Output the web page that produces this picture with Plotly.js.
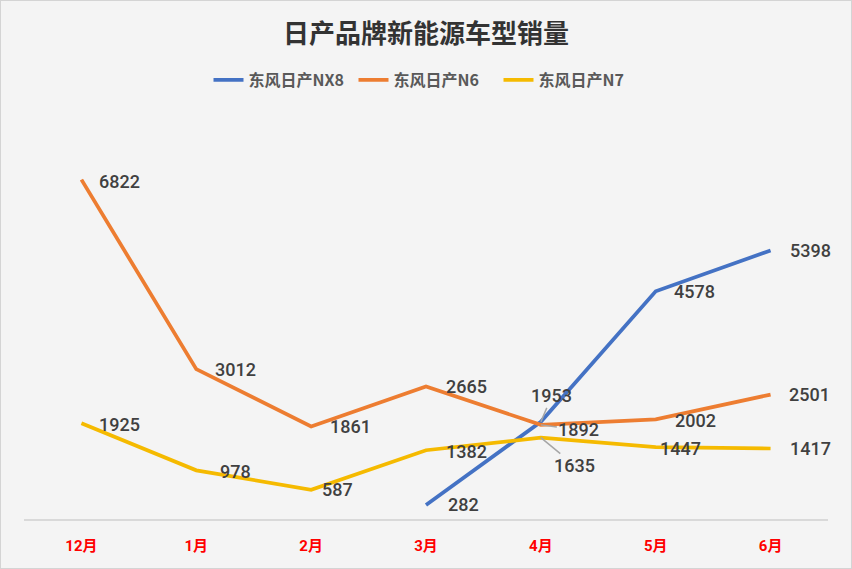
<!DOCTYPE html>
<html>
<head>
<meta charset="utf-8">
<script src="https://cdn.plot.ly/plotly-3.0.1.min.js"></script>
<style>
  body { margin: 0; background: #fff; }
  #chart { width: 850px; height: 567px; border: 1px solid #d4d4d4; }
</style>
</head>
<body>
<div id="chart"></div>
<script>
const months = ['12月', '1月', '2月', '3月', '4月', '5月', '6月'];
const nx8 = [null, null, null, 282, 1953, 4578, 5398];
const n6 = [6822, 3012, 1861, 2665, 1892, 2002, 2501];
const n7 = [1925, 978, 587, 1382, 1635, 1447, 1417];

const seriesNames = ['东风日产NX8', '东风日产N6', '东风日产N7'];
const colors = ['#4472C4', '#ED7D31', '#F5BA00'];

// label offsets in pixels [dx, dy] per series / month; third item = leader line
const labelOffsets = {
  0: {3: [37, 0], 4: [11, -26, true], 5: [39, 0], 6: [40, 0]},
  1: {0: [38, 2], 1: [39, 0], 2: [39, 0], 3: [40, 0], 4: [38, 5, true], 5: [40, 1], 6: [39, 0]},
  2: {0: [38, 1], 1: [39, 1], 2: [26, 0], 3: [40, 1], 4: [34, 28, true], 5: [25, 1], 6: [40, 0]}
};

const allSeries = [nx8, n6, n7];

const data = allSeries.map((vals, i) => ({
  x: months,
  y: vals,
  name: seriesNames[i],
  type: 'scatter',
  mode: 'lines',
  line: {color: colors[i], width: 3.75},
  connectgaps: false,
  hoverinfo: 'skip'
}));

const annotations = [];
allSeries.forEach((vals, i) => {
  vals.forEach((v, j) => {
    if (v === null) return;
    const off = labelOffsets[i][j] || [38, 0];
    const a = {
      x: months[j],
      y: v,
      xref: 'x',
      yref: 'y',
      text: String(v),
      font: {family: 'Roboto, sans-serif', size: 18, color: '#404040', weight: 500}
    };
    if (off[2]) {
      a.showarrow = true;
      a.arrowhead = 0;
      a.arrowwidth = 1.5;
      a.arrowcolor = '#a6a6a6';
      a.ax = off[0];
      a.ay = off[1];
      a.standoff = 0;
    } else {
      a.showarrow = false;
      a.xshift = off[0];
      a.yshift = -off[1];
    }
    annotations.push(a);
  });
});

const layout = {
  width: 850,
  height: 567,
  paper_bgcolor: '#f4f4f4',
  plot_bgcolor: '#f4f4f4',
  margin: {l: 23, r: 23, t: 120, b: 49},
  title: {
    text: '<b>日产品牌新能源车型销量</b>',
    font: {family: 'Noto Sans CJK SC, sans-serif', size: 26, color: '#333333'},
    x: 0.5,
    xanchor: 'center',
    yref: 'container',
    y: 0.942,
    yanchor: 'middle'
  },
  legend: {
    orientation: 'h',
    x: 0.5,
    xanchor: 'center',
    y: 1.103,
    yanchor: 'middle',
    font: {family: 'Noto Sans CJK SC, sans-serif', size: 16, color: '#595959', weight: 'bold'},
    entrywidth: 100,
    entrywidthmode: 'pixels',
    tracegroupgap: 0
  },
  xaxis: {
    type: 'category',
    range: [-0.5, 6.5],
    showgrid: false,
    zeroline: false,
    showline: true,
    linecolor: '#d9d9d9',
    linewidth: 2,
    ticks: '',
    ticklabelstandoff: 12,
    tickfont: {family: 'Roboto, Noto Sans CJK SC, sans-serif', size: 15, color: '#ff0000', weight: 'bold'},
    fixedrange: true
  },
  yaxis: {
    range: [0, 8000],
    visible: false,
    showgrid: false,
    zeroline: false,
    fixedrange: true
  },
  annotations: annotations,
  showlegend: true
};

Plotly.newPlot('chart', data, layout, {displayModeBar: false, staticPlot: true});
</script>
</body>
</html>
